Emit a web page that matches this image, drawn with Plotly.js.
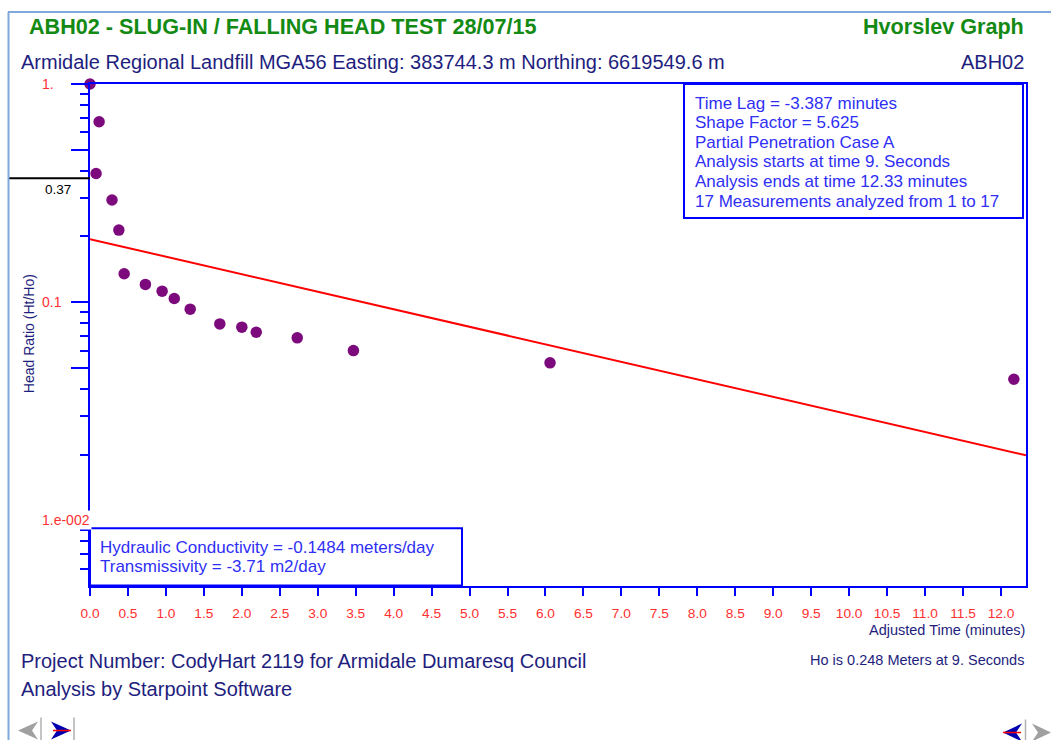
<!DOCTYPE html>
<html>
<head>
<meta charset="utf-8">
<script src="https://cdn.plot.ly/plotly-3.0.1.min.js"></script>
<style>html,body{margin:0;padding:0;background:#fff;}#chart{width:1051px;height:740px;}</style>
</head>
<body>
<div id="chart"></div>
<script>
// ---- data ----
const timeMinutes = [0.0, 0.12, 0.08, 0.29, 0.38, 0.45, 0.73, 0.95, 1.11, 1.32, 1.71, 2.00, 2.19, 2.73, 3.47, 6.06, 12.17];
const headRatio   = [1.0, 0.671, 0.389, 0.294, 0.214, 0.135, 0.1206, 0.1123, 0.104, 0.0929, 0.0795, 0.0768, 0.0728, 0.0686, 0.0600, 0.0527, 0.0443];
const fitTime  = [0, 12.33];
const fitRatio = [0.1945, 0.01986];
const xTickVals = [0,0.5,1,1.5,2,2.5,3,3.5,4,4.5,5,5.5,6,6.5,7,7.5,8,8.5,9,9.5,10,10.5,11,11.5,12];
const yMajorTicks = [1, 0.5, 0.1, 0.05, 0.01];
const yMinorTicks = [0.9,0.8,0.7,0.6,0.4,0.3,0.2,0.09,0.08,0.07,0.06,0.04,0.03,0.02,0.009,0.008,0.007,0.006];
const yLabelVals = [1, 0.1, 0.01];
const yLabelText = ['1.', '0.1', '1.e-002'];
const refLineValue = 0.37;
const refLineText = '0.37';
const titleText = 'ABH02 - SLUG-IN / FALLING HEAD TEST 28/07/15';
const graphName = 'Hvorslev Graph';
const subtitleText = 'Armidale Regional Landfill MGA56 Easting: 383744.3 m Northing: 6619549.6 m';
const wellName = 'ABH02';
const infoLines = ['Time Lag = -3.387 minutes','Shape Factor = 5.625','Partial Penetration Case A','Analysis starts at time 9. Seconds','Analysis ends at time 12.33 minutes','17 Measurements analyzed from 1 to 17'];
const resultLines = ['Hydraulic Conductivity = -0.1484 meters/day','Transmissivity = -3.71 m2/day'];
const footerLines = ['Project Number: CodyHart 2119 for Armidale Dumaresq Council','Analysis by Starpoint Software'];
const hoText = 'Ho is 0.248 Meters at 9. Seconds';
const xTitle = 'Adjusted Time (minutes)';
const yTitle = 'Head Ratio (Ht/Ho)';

// ---- layout geometry (pixels) ----
const L = 90, R = 1026, T = 84, B = 585.6;
const W = R - L, H = B - T;
const px = x => (x - L) / W;
const py = y => (B - y) / H;

const FONT = 'Liberation Sans, Arial, sans-serif';
const NAVY = '#1e1e7e', GREEN = '#138a13', BLUE = '#2f2ff5', RED = '#ff3030', AXIS = '#0000ff';

const annotations = [];
const shapes = [];
function txt(text, x, y, size, color, xanchor, extra) {
  annotations.push(Object.assign({text: text, x: px(x), y: py(y), xref: 'paper', yref: 'paper',
    xanchor: xanchor || 'left', yanchor: 'middle', showarrow: false,
    font: {family: FONT, size: size, color: color}}, extra || {}));
}
// header
txt('<b>' + titleText + '</b>', 27, 27, 21.6, GREEN, 'left');
txt('<b>' + graphName + '</b>', 1026, 27, 21.6, GREEN, 'right');
txt(subtitleText, 19, 62, 20, NAVY, 'left');
txt(wellName, 1026, 62, 20, NAVY, 'right');
// footer
txt(footerLines[0], 19, 661, 20, NAVY, 'left');
txt(footerLines[1], 19, 689, 20, NAVY, 'left');
txt(hoText, 1026, 660, 14.5, NAVY, 'right');
// axis titles
txt(xTitle, 1027, 630, 14.5, NAVY, 'right');
txt(yTitle, 29, 333, 14, NAVY, 'center', {textangle: -90});
// info box
shapes.push({type: 'rect', xref: 'paper', yref: 'paper', x0: px(684), x1: px(1023), y0: py(84), y1: py(218),
  line: {color: AXIS, width: 2}, fillcolor: 'rgba(255,255,255,0)', layer: 'above'});
infoLines.forEach((s, i) => txt(s, 693, 103 + i * 19.6, 17, BLUE, 'left'));
// results box
shapes.push({type: 'rect', xref: 'paper', yref: 'paper', x0: px(90), x1: px(462), y0: py(528), y1: py(585),
  line: {color: AXIS, width: 2}, fillcolor: '#ffffff', layer: 'above'});
resultLines.forEach((s, i) => txt(s, 98, 547 + i * 19.3, 17, BLUE, 'left'));
// y tick labels (left-aligned like the reference)
yLabelVals.forEach((v, i) => annotations.push({text: yLabelText[i], x: px(40), xref: 'paper', xanchor: 'left',
  y: Math.log10(v), yref: 'y', yanchor: 'middle', showarrow: false, bgcolor: '#ffffff', borderpad: 1,
  font: {family: FONT, size: 14, color: RED}}));
// 0.37 reference line
shapes.push({type: 'line', xref: 'paper', yref: 'y', x0: px(8), x1: px(90), y0: refLineValue, y1: refLineValue,
  line: {color: '#000000', width: 2}});
annotations.push({text: refLineText, x: px(73), xref: 'paper', xanchor: 'right', y: Math.log10(refLineValue), yref: 'y',
  yanchor: 'top', yshift: -2, showarrow: false, font: {family: FONT, size: 13.5, color: '#000000'}});
// outer frame
shapes.push({type: 'line', xref: 'paper', yref: 'paper', x0: px(8.5), x1: px(8.5), y0: py(12), y1: py(740), line: {color: '#7fa8dc', width: 2}});
shapes.push({type: 'line', xref: 'paper', yref: 'paper', x0: px(8), x1: px(1051), y0: py(12), y1: py(12), line: {color: '#7fa8dc', width: 2}});
// navigation buttons
function pathPx(pts) { return 'M ' + pts.map(p => px(p[0]) + ',' + py(p[1])).join(' L ') + ' Z'; }
shapes.push({type: 'path', xref: 'paper', yref: 'paper', path: pathPx([[18,730],[38,721],[32,730],[38,739]]), fillcolor: '#a0a0a0', line: {width: 0}});
shapes.push({type: 'line', xref: 'paper', yref: 'paper', x0: px(41), x1: px(41), y0: py(717), y1: py(740), line: {color: '#b0b0b0', width: 1.5}});
shapes.push({type: 'path', xref: 'paper', yref: 'paper', path: pathPx([[71,730],[51,721],[57,730],[51,739]]), fillcolor: '#0000b0', line: {width: 0}});
shapes.push({type: 'line', xref: 'paper', yref: 'paper', x0: px(53), x1: px(71), y0: py(730), y1: py(730), line: {color: '#ff0000', width: 1.5}});
shapes.push({type: 'line', xref: 'paper', yref: 'paper', x0: px(74), x1: px(74), y0: py(717), y1: py(740), line: {color: '#b0b0b0', width: 1.5}});
shapes.push({type: 'path', xref: 'paper', yref: 'paper', path: pathPx([[1003,732],[1022,723],[1016,732],[1022,741]]), fillcolor: '#0000b0', line: {width: 0}});
shapes.push({type: 'line', xref: 'paper', yref: 'paper', x0: px(1003), x1: px(1021), y0: py(732), y1: py(732), line: {color: '#ff0000', width: 1.5}});
shapes.push({type: 'line', xref: 'paper', yref: 'paper', x0: px(1025.5), x1: px(1025.5), y0: py(719), y1: py(740), line: {color: '#b0b0b0', width: 1.5}});
shapes.push({type: 'path', xref: 'paper', yref: 'paper', path: pathPx([[1051,732],[1032,723],[1038,732],[1032,741]]), fillcolor: '#a0a0a0', line: {width: 0}});

const traces = [
  {x: fitTime, y: fitRatio, type: 'scatter', mode: 'lines', line: {color: '#ff0000', width: 2}, hoverinfo: 'skip'},
  {x: timeMinutes, y: headRatio, type: 'scatter', mode: 'markers', cliponaxis: false,
   marker: {color: '#7d0a7d', size: 11.5, line: {width: 0}}}
];

const layout = {
  width: 1051, height: 740,
  margin: {l: L, r: 1051 - R, t: T, b: 740 - B, pad: 0},
  paper_bgcolor: '#ffffff', plot_bgcolor: '#ffffff',
  showlegend: false,
  font: {family: FONT},
  xaxis: {range: [0, 12.33], tickmode: 'array', tickvals: xTickVals, tickformat: '.1f',
    ticks: 'outside', ticklen: 8, tickwidth: 2, tickcolor: AXIS, ticklabelstandoff: 6,
    showline: true, linecolor: AXIS, linewidth: 2, mirror: true, showgrid: false, zeroline: false,
    tickfont: {family: FONT, size: 13.7, color: RED}},
  yaxis: {type: 'log', range: [Math.log10(0.005), 0], tickmode: 'array', tickvals: yMajorTicks,
    showticklabels: false, ticks: 'outside', ticklen: 17, tickwidth: 2, tickcolor: AXIS,
    minor: {tickmode: 'array', tickvals: yMinorTicks, ticks: 'outside', ticklen: 8, tickwidth: 2, tickcolor: AXIS, showgrid: false},
    showline: true, linecolor: AXIS, linewidth: 2, mirror: true, showgrid: false, zeroline: false},
  annotations: annotations,
  shapes: shapes
};

Plotly.newPlot('chart', traces, layout, {displayModeBar: false, staticPlot: true});
</script>
</body>
</html>
